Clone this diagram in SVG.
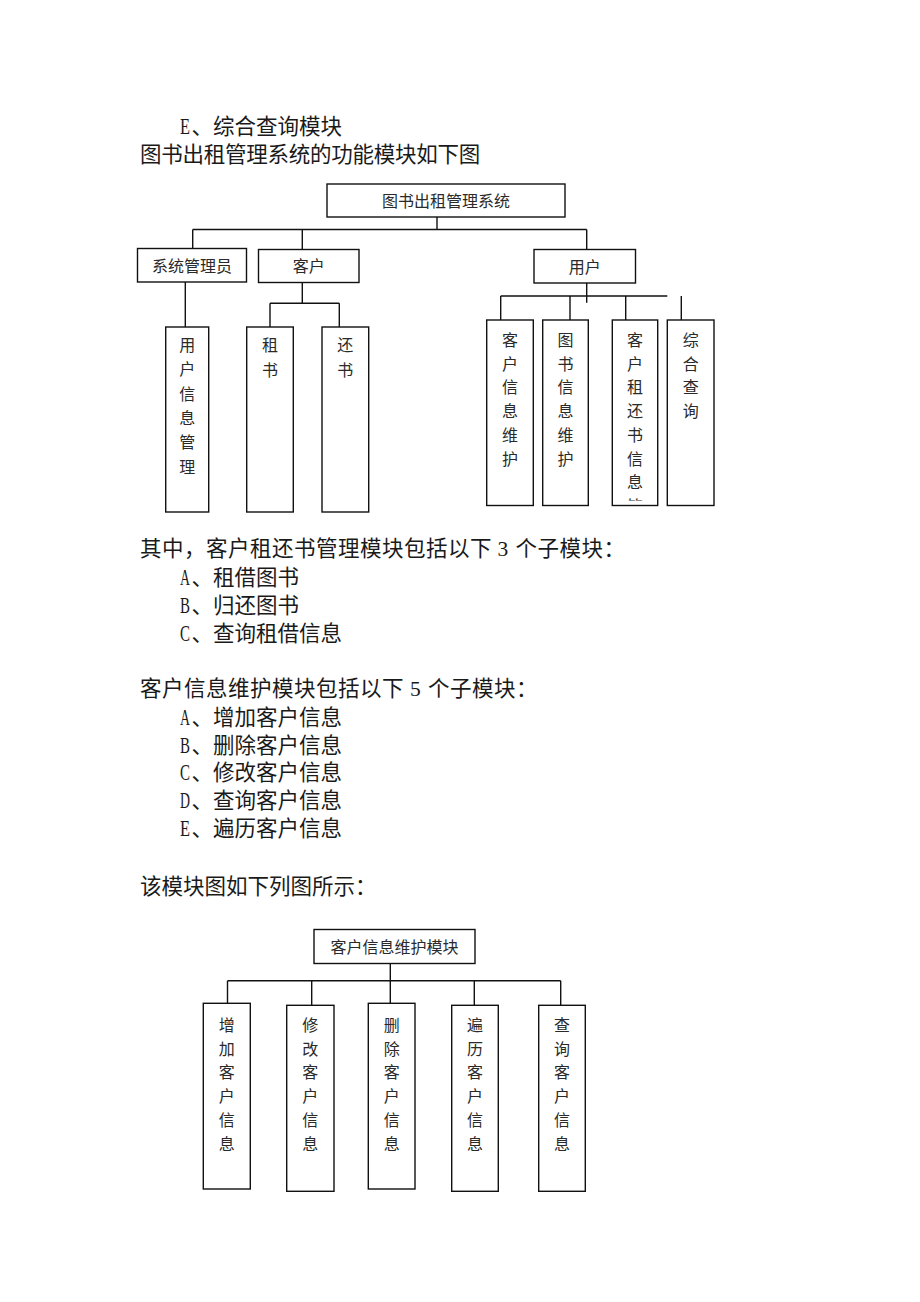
<svg xmlns="http://www.w3.org/2000/svg" width="920" height="1302" viewBox="0 0 920 1302">
<style>
.body{font-family:'Liberation Serif','Noto Sans CJK SC',serif;font-size:21.5px;fill:#1a1a1a}
.let{font-family:'Liberation Serif',serif;font-size:24px}
.lbl{font-family:'Noto Sans CJK SC','Noto Sans CJK JP',sans-serif;font-size:16px;fill:#2a2a2a;text-anchor:middle}
.box{fill:#fff;stroke:#111;stroke-width:1.4}
.con{fill:none;stroke:#111;stroke-width:1.4}
</style>
<defs>
<clipPath id="clipZL"><rect x="613" y="321" width="44" height="179.5"/></clipPath>
</defs>
<rect width="920" height="1302" fill="#fff"/>

<g id="body-text">
<text class="body" y="134"><tspan class="let" x="180" textLength="10" lengthAdjust="spacingAndGlyphs">E</tspan><tspan x="191.5">、综合查询模块</tspan></text>
<text class="body" x="140" y="162" letter-spacing="-0.25">图书出租管理系统的功能模块如下图</text>
<text class="body" y="556" letter-spacing="0.5"><tspan x="140">其中，客户租还书管理模块包括以下</tspan><tspan x="497.5">3</tspan><tspan x="515.5">个子模块：</tspan></text>
<text class="body" y="585"><tspan class="let" x="180" textLength="10" lengthAdjust="spacingAndGlyphs">A</tspan><tspan x="191.5">、租借图书</tspan></text>
<text class="body" y="613"><tspan class="let" x="180" textLength="10" lengthAdjust="spacingAndGlyphs">B</tspan><tspan x="191.5">、归还图书</tspan></text>
<text class="body" y="641"><tspan class="let" x="180" textLength="10" lengthAdjust="spacingAndGlyphs">C</tspan><tspan x="191.5">、查询租借信息</tspan></text>
<text class="body" y="696" letter-spacing="0.5"><tspan x="140">客户信息维护模块包括以下</tspan><tspan x="410">5</tspan><tspan x="428">个子模块：</tspan></text>
<text class="body" y="725"><tspan class="let" x="180" textLength="10" lengthAdjust="spacingAndGlyphs">A</tspan><tspan x="191.5">、增加客户信息</tspan></text>
<text class="body" y="753"><tspan class="let" x="180" textLength="10" lengthAdjust="spacingAndGlyphs">B</tspan><tspan x="191.5">、删除客户信息</tspan></text>
<text class="body" y="780"><tspan class="let" x="180" textLength="10" lengthAdjust="spacingAndGlyphs">C</tspan><tspan x="191.5">、修改客户信息</tspan></text>
<text class="body" y="808"><tspan class="let" x="180" textLength="10" lengthAdjust="spacingAndGlyphs">D</tspan><tspan x="191.5">、查询客户信息</tspan></text>
<text class="body" y="836"><tspan class="let" x="180" textLength="10" lengthAdjust="spacingAndGlyphs">E</tspan><tspan x="191.5">、遍历客户信息</tspan></text>
<text class="body" x="140" y="894">该模块图如下列图所示：</text>
</g>

<g id="connectors">
<!-- top diagram -->
<path class="con" d="M437,217 V229.5 M192.7,229.5 H586.7 M192.7,229.5 V248.5 M302.3,229.5 V249.5 M586.7,229.5 V249.5"/>
<path class="con" d="M185.3,282 V327"/>
<path class="con" d="M302.3,282.5 V303.3 M270,303.3 H339.3 M270,303.3 V327 M339.3,303.3 V327"/>
<path class="con" d="M586.7,283 V302.7 M500.7,296 H667.3 M500.7,296 V320 M570,296 V320 M625.7,296 V320 M681.3,296 V320"/>
<!-- bottom diagram -->
<path class="con" d="M390.3,963.5 V980.7 M227.5,980.7 H560.7 M227.5,980.7 V1003.3 M311.7,980.7 V1005.3 M390.3,980.7 V1003.3 M474.3,980.7 V1005.3 M560.7,980.7 V1005.3"/>
</g>

<g id="n-root">
<rect class="box" x="327" y="184" width="238" height="33"/>
<text class="lbl" x="446" y="206.5">图书出租管理系统</text>
</g>
<g id="n-admin">
<rect class="box" x="137.5" y="248.5" width="109" height="33.5"/>
<text class="lbl" x="192" y="271.5">系统管理员</text>
</g>
<g id="n-customer">
<rect class="box" x="258.5" y="249.5" width="100.5" height="33"/>
<text class="lbl" x="308.7" y="272">客户</text>
</g>
<g id="n-user">
<rect class="box" x="534" y="249.5" width="101.5" height="33.5"/>
<text class="lbl" x="584.8" y="272.5">用户</text>
</g>

<g id="n-userinfo">
<rect class="box" x="165.7" y="327" width="43" height="185"/>
<text class="lbl"><tspan x="187.2" y="351">用</tspan><tspan x="187.2" dy="24.3">户</tspan><tspan x="187.2" dy="24.3">信</tspan><tspan x="187.2" dy="24.3">息</tspan><tspan x="187.2" dy="24.3">管</tspan><tspan x="187.2" dy="24.3">理</tspan></text>
</g>
<g id="n-rent">
<rect class="box" x="246.7" y="327" width="46.6" height="185"/>
<text class="lbl"><tspan x="270" y="351">租</tspan><tspan x="270" dy="24.8">书</tspan></text>
</g>
<g id="n-return">
<rect class="box" x="322" y="327" width="46.7" height="185"/>
<text class="lbl"><tspan x="345.3" y="351">还</tspan><tspan x="345.3" dy="24.8">书</tspan></text>
</g>

<g id="n-custmaint">
<rect class="box" x="486.7" y="320" width="46.6" height="185.5"/>
<text class="lbl"><tspan x="510" y="346">客</tspan><tspan x="510" dy="23.7">户</tspan><tspan x="510" dy="23.7">信</tspan><tspan x="510" dy="23.7">息</tspan><tspan x="510" dy="23.7">维</tspan><tspan x="510" dy="23.7">护</tspan></text>
</g>
<g id="n-bookmaint">
<rect class="box" x="542.7" y="320" width="45.6" height="185.5"/>
<text class="lbl"><tspan x="565.5" y="346">图</tspan><tspan x="565.5" dy="23.7">书</tspan><tspan x="565.5" dy="23.7">信</tspan><tspan x="565.5" dy="23.7">息</tspan><tspan x="565.5" dy="23.7">维</tspan><tspan x="565.5" dy="23.7">护</tspan></text>
</g>
<g id="n-rentinfo">
<rect class="box" x="612.3" y="320" width="45.4" height="185.5"/>
<text class="lbl" clip-path="url(#clipZL)"><tspan x="635" y="346">客</tspan><tspan x="635" dy="23.7">户</tspan><tspan x="635" dy="23.7">租</tspan><tspan x="635" dy="23.7">还</tspan><tspan x="635" dy="23.7">书</tspan><tspan x="635" dy="23.7">信</tspan><tspan x="635" dy="23.7">息</tspan><tspan x="635" dy="23.7">管</tspan></text>
</g>
<g id="n-query">
<rect class="box" x="667.3" y="320" width="46.7" height="185.5"/>
<text class="lbl"><tspan x="690.7" y="346">综</tspan><tspan x="690.7" dy="23.7">合</tspan><tspan x="690.7" dy="23.7">查</tspan><tspan x="690.7" dy="23.7">询</tspan></text>
</g>

<g id="m-root">
<rect class="box" x="314" y="929.5" width="161" height="34"/>
<text class="lbl" x="394.5" y="953">客户信息维护模块</text>
</g>
<g id="m-add">
<rect class="box" x="203.3" y="1003.3" width="47" height="185.7"/>
<text class="lbl"><tspan x="226.8" y="1031">增</tspan><tspan x="226.8" dy="23.7">加</tspan><tspan x="226.8" dy="23.7">客</tspan><tspan x="226.8" dy="23.7">户</tspan><tspan x="226.8" dy="23.7">信</tspan><tspan x="226.8" dy="23.7">息</tspan></text>
</g>
<g id="m-modify">
<rect class="box" x="286.7" y="1005.3" width="47.3" height="186"/>
<text class="lbl"><tspan x="310.3" y="1031">修</tspan><tspan x="310.3" dy="23.7">改</tspan><tspan x="310.3" dy="23.7">客</tspan><tspan x="310.3" dy="23.7">户</tspan><tspan x="310.3" dy="23.7">信</tspan><tspan x="310.3" dy="23.7">息</tspan></text>
</g>
<g id="m-delete">
<rect class="box" x="368.3" y="1003.3" width="46.7" height="185.7"/>
<text class="lbl"><tspan x="391.7" y="1031">删</tspan><tspan x="391.7" dy="23.7">除</tspan><tspan x="391.7" dy="23.7">客</tspan><tspan x="391.7" dy="23.7">户</tspan><tspan x="391.7" dy="23.7">信</tspan><tspan x="391.7" dy="23.7">息</tspan></text>
</g>
<g id="m-traverse">
<rect class="box" x="451.7" y="1005.3" width="46.6" height="186"/>
<text class="lbl"><tspan x="475" y="1031">遍</tspan><tspan x="475" dy="23.7">历</tspan><tspan x="475" dy="23.7">客</tspan><tspan x="475" dy="23.7">户</tspan><tspan x="475" dy="23.7">信</tspan><tspan x="475" dy="23.7">息</tspan></text>
</g>
<g id="m-query">
<rect class="box" x="538.7" y="1005.3" width="46.6" height="186"/>
<text class="lbl"><tspan x="562" y="1031">查</tspan><tspan x="562" dy="23.7">询</tspan><tspan x="562" dy="23.7">客</tspan><tspan x="562" dy="23.7">户</tspan><tspan x="562" dy="23.7">信</tspan><tspan x="562" dy="23.7">息</tspan></text>
</g>
</svg>
